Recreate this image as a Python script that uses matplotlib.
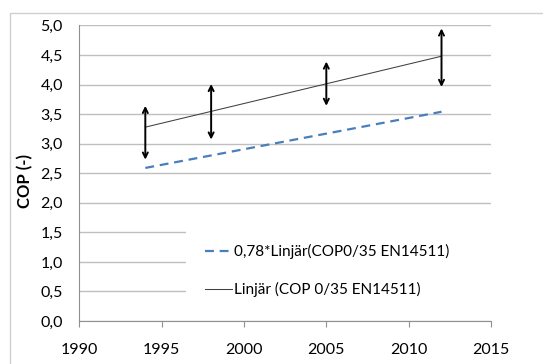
import matplotlib
matplotlib.use('Agg')
import matplotlib.pyplot as plt
import matplotlib.patches as mpatches
from matplotlib.ticker import FuncFormatter, MultipleLocator

YEARS = [1994, 2012]
COP_LINEAR = [3.28, 4.48]
COP_078 = [2.59, 3.54]

ARROW_YEARS = [1994, 1998, 2005, 2012]
ARROW_TOP = [3.64, 4.01, 4.39, 4.95]
ARROW_BOTTOM = [2.73, 3.07, 3.64, 3.96]

LABEL_078 = '0,78*Linjär(COP0/35 EN14511)'
LABEL_LIN = 'Linjär (COP 0/35 EN14511)'
Y_LABEL = 'COP (-)'

FONT = 'Lato'
GRID = '#bfbfbf'


def comma(v, pos):
    return ('%.1f' % v).replace('.', ',')


def main():
    plt.rcParams['font.family'] = [FONT, 'DejaVu Sans']
    fig = plt.figure(figsize=(5.43, 3.64), dpi=100)
    ax = fig.add_axes([0.1464, 0.1181, 0.7576, 0.8119])

    # outer chart frame
    fig.patches.append(mpatches.Rectangle((9.5 / 543, -0.05), 1.0, 0.05 + 0.9635,
                                          transform=fig.transFigure, fill=False,
                                          edgecolor='#d0d0d0', lw=1.0))

    l1, = ax.plot(YEARS, COP_078, color='#4a7ebb', lw=1.6, dashes=(4, 2.6), zorder=3)
    l2, = ax.plot(YEARS, COP_LINEAR, color='#404040', lw=0.75, zorder=3)

    for x, top, bot in zip(ARROW_YEARS, ARROW_TOP, ARROW_BOTTOM):
        ax.annotate('', xy=(x, top), xytext=(x, bot),
                    arrowprops=dict(arrowstyle='<->', color='black', lw=1.4,
                                    shrinkA=0, shrinkB=0, mutation_scale=9),
                    zorder=4)

    ax.set_xlim(1990, 2015)
    ax.set_ylim(0, 5)
    ax.xaxis.set_major_locator(MultipleLocator(5))
    ax.yaxis.set_major_locator(MultipleLocator(0.5))
    ax.yaxis.set_major_formatter(FuncFormatter(comma))
    ax.grid(axis='y', color=GRID, lw=1.0)
    ax.set_axisbelow(True)
    for s in ['top', 'right']:
        ax.spines[s].set_visible(False)
    for s in ['left', 'bottom']:
        ax.spines[s].set_color('#909090')
    ax.tick_params(axis='x', length=4, color='#909090', labelsize=11.5, pad=11.5)
    ax.tick_params(axis='y', length=0, labelsize=11.5, pad=12)
    ax.set_ylabel(Y_LABEL, fontsize=12, fontweight='bold')
    ax.yaxis.set_label_coords(-0.112, 0.475)

    # white legend area covering gridlines
    ax.add_patch(mpatches.Rectangle((0.259, 0.02), 0.741, 0.356, transform=ax.transAxes,
                                    facecolor='white', edgecolor='none', zorder=2))
    leg = ax.legend([l1, l2], [LABEL_078, LABEL_LIN], loc='center left',
                    bbox_to_anchor=(0.305, 0.171), frameon=False, fontsize=11,
                    handlelength=1.75, handletextpad=0.15, labelspacing=1.5,
                    borderaxespad=0, borderpad=0)
    leg.set_zorder(5)

    fig.savefig('out.png', dpi=100)


if __name__ == '__main__':
    main()
